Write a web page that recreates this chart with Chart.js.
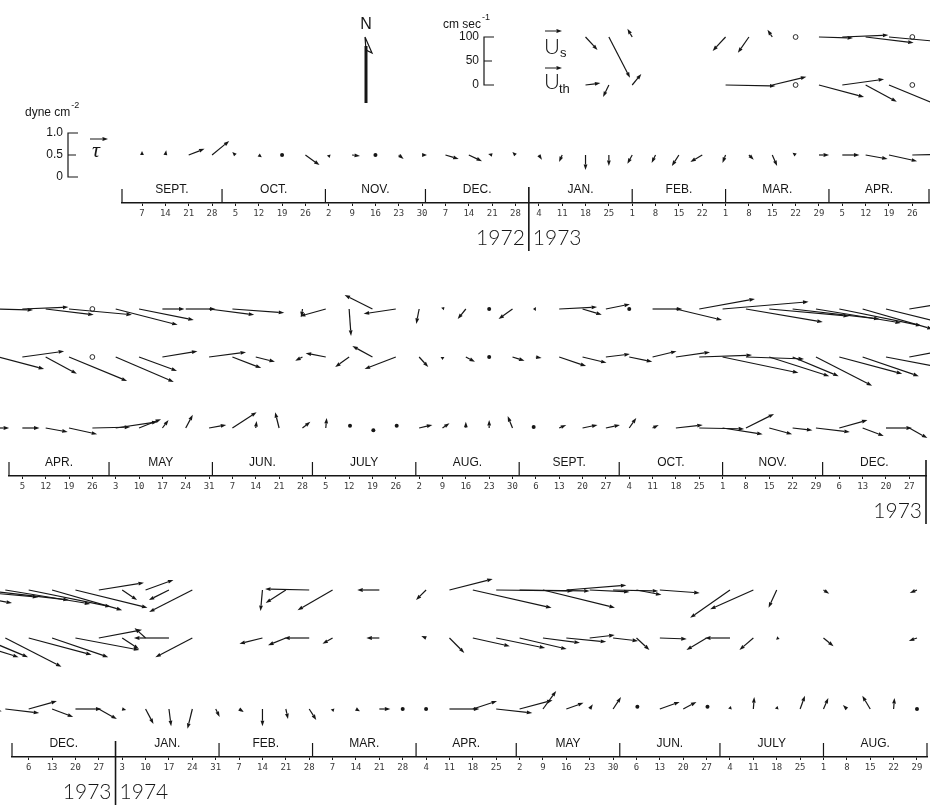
<!DOCTYPE html>
<html>
<head>
<meta charset="utf-8">
<script src="https://cdn.jsdelivr.net/npm/chart.js@4.4.0/dist/chart.umd.min.js"></script>
<style>
  html, body { margin: 0; padding: 0; background: #fff; }
  #page { position: relative; width: 930px; height: 807px; overflow: hidden; }
  canvas { position: absolute; left: 0; }
</style>
</head>
<body>
<div id="page">
  <canvas id="panel1" width="930" height="265" style="top:0"></canvas>
  <canvas id="panel2" width="930" height="280" style="top:265px"></canvas>
  <canvas id="panel3" width="930" height="262" style="top:545px"></canvas>
</div>
<script>
// -------------------------------
// weekly records, first one on 7 Sept 1972
// day numbers count from 1 Sept 1972
// -------------------------------
const DAY0 = Date.UTC(1972, 8, 1);
const dayOf = (y, m, d) => (Date.UTC(y, m, d) - DAY0) / 86400000;
const firstWeek = dayOf(1972, 8, 7);
const weekDay = k => firstWeek + 7 * k;

const monthNames = ["JAN.", "FEB.", "MAR.", "APR.", "MAY", "JUN.", "JULY", "AUG.", "SEPT.", "OCT.", "NOV.", "DEC."];

// surface current [east, north], cm/s (null = no record)
const surfaceCurrent = [
  null, null, null, null,                                   // Sep 72
  null, null, null, null,                                   // Oct
  null, null, null, null, null,                             // Nov
  null, null, null, null,                                   // Dec
  null, null, [25, -27], [44, -85],                         // Jan 73
  [-10, 17], null, null, null,                              // Feb
  [-27, -29], [-23, -33], [-10, 15], null, [71, -2],        // Mar
  [96, 4], [100, -12], [131, -12], null,                    // Apr
  [129, -33], [114, -23], [46, 0], [62, 0], [94, -12],      // May
  [108, -8], null, null, [-2, -17],                         // Jun
  [-54, -15], [4, -56], [-58, 29], [-67, -10],              // Jul
  [-6, -31], [4, 4], [-17, -21], [0, 0], [-29, -21],        // Aug
  [-6, 0], [79, 4], [40, -12], [50, 10],                    // Sep
  [0, 0], [62, 0], [96, -23], [116, 21],                    // Oct
  [179, 15], [160, -27], [166, -15], [181, -21], [177, -29],// Nov
  [171, -35], [146, -42], [150, -37], [94, 15],             // Dec
  [31, -21], [58, 21], [-42, -21], [-90, -46], null,        // Jan 74
  null, [-4, -44], [-42, -27], [-92, 2],                    // Feb
  [-73, -42], null, [-46, 0], null,                         // Mar
  [-21, -21], [90, 23], [164, -37], [160, -2],              // Apr
  [146, -2], [150, -37], [125, 10], [83, -4], [94, -2],     // May
  [52, -10], [83, -6], null, null,                          // Jun
  [-83, -58], [-90, -40], [-17, -37], null,                 // Jul
  [12, -8], null, null, null, [-15, -6]                     // Aug
];

// current at the thermocline [east, north], cm/s
const thermoclineCurrent = [
  null, null, null, null,
  null, null, null, null,
  null, null, null, null, null,
  null, null, null, null,
  null, null, [31, 4], [-12, -25],                          // Jan 73
  [19, 23], null, null, null,                               // Feb
  [104, -2], null, [71, 17], null, [94, -25],               // Mar
  [87, 12], [65, -35], [121, -50], null,                    // Apr
  [121, -52], [79, -29], [73, 12], null, [77, 10],          // May
  [60, -23], [40, -10], null, [-15, -8],                    // Jun
  [-42, 8], [-29, -21], [-42, 23], [-65, -25],              // Jul
  [19, -21], [0, -6], [19, -10], [0, 0], [25, -8],          // Aug
  [12, -2], [56, -19], [50, -12], [50, 6],                  // Sep
  [48, -10], [50, 12], [71, 10], [110, 4],                  // Oct
  [158, -33], [121, -4], [125, -40], [96, -40], [117, -60], // Nov
  [131, -35], [117, -40], [133, -25], [90, 17],             // Dec
  [35, -23], [-23, 21], [-73, 0], [-77, -40], null,         // Jan 74
  null, [-48, -12], [-37, -15], [-52, 0],                   // Feb
  [-21, -12], null, [-27, 0], null,                         // Mar
  [-10, 4], [31, -31], [77, -17], [102, -21],               // Apr
  [98, -23], [77, -10], [83, -8], [52, 6], [52, -6],        // May
  [27, -25], [56, -2], null, [-42, -25],                    // Jun
  [-52, 0], [-29, -25], [6, -2], null,                      // Jul
  [21, -17], null, null, null, [-17, -6]                    // Aug
];

// wind stress [east, north], dyne cm-2
const windStress = [
  [0, 0.09], [0.02, 0.11], [0.36, 0.14], [0.39, 0.32],                      // Sep 72
  [-0.07, 0.07], [0.07, -0.05], [0, 0], [0.32, -0.23],                      // Oct
  [0.02, -0.07], [0.18, -0.02], [0, 0], [0.11, -0.09], [0.11, 0],           // Nov
  [0.30, -0.09], [0.30, -0.14], [-0.09, 0.02], [-0.07, 0.07],               // Dec
  [0.07, -0.11], [-0.07, -0.16], [0, -0.34], [0, -0.25],                    // Jan 73
  [-0.11, -0.20], [-0.09, -0.18], [-0.16, -0.25], [-0.27, -0.16],           // Feb
  [-0.07, -0.18], [0.11, -0.11], [0.11, -0.25], [-0.07, 0.05], [0.23, 0],   // Mar
  [0.39, 0], [0.50, -0.09], [0.64, -0.14], [0.86, 0.02],                    // Apr
  [0.95, 0.14], [0.50, 0.20], [0.14, 0.18], [0.16, 0.30], [0.39, 0.07],     // May
  [0.55, 0.36], [0.02, 0.16], [-0.09, 0.36], [0.18, 0.14],                  // Jun
  [0.02, 0.23], [0.02, 0.05], [0.02, -0.05], [0.02, 0.05],                  // Jul
  [0.30, 0.07], [0.16, 0.11], [0, 0.14], [0, 0.18], [-0.11, 0.27],          // Aug
  [-0.05, 0.02], [0.16, 0.07], [0.34, 0.07], [0.32, 0.07],                  // Sep
  [0.16, 0.23], [0.14, 0.07], [0.61, 0.07], [1.02, -0.02],                  // Oct
  [0.91, -0.14], [0.64, 0.32], [0.52, -0.14], [0.45, -0.05], [0.77, -0.09], // Nov
  [0.64, 0.18], [0.48, -0.18], [0.59, 0], [0.41, -0.23],                    // Dec
  [0.09, -0.02], [0.18, -0.34], [0.05, -0.39], [-0.11, -0.45], [0.09, -0.18], // Jan 74
  [0.11, -0.07], [0, -0.39], [0.05, -0.23], [0.16, -0.25],                  // Feb
  [0.02, -0.07], [0.09, -0.05], [0.25, 0], [0, 0],                          // Mar
  [0, 0], [0.68, 0], [0.55, 0.18], [0.82, -0.09],                           // Apr
  [0.75, 0.20], [0.30, 0.41], [0.39, 0.14], [0.07, 0.11], [0.18, 0.27],     // May
  [0.02, 0.05], [0.45, 0.16], [0.30, 0.16], [0.02, 0.05],                   // Jun
  [0.02, 0.07], [0.02, 0.27], [0.02, 0.07], [0.11, 0.30],                   // Jul
  [0.11, 0.25], [-0.09, 0.09], [-0.18, 0.30], [0.02, 0.25], [0, 0]          // Aug
];

// weeks where the current meter gave no usable record (open circles)
const noRecordWeeks = [dayOf(1973, 2, 22), dayOf(1973, 3, 26)];

// ===============================
// PANEL LAYOUT (pixels inside each canvas)
// ===============================
const SPEED_PX = 0.48;   // px per cm/s
const STRESS_PX = 44;    // px per dyne cm-2
const ink = "#161616";

const panels = [
  { id: "panel1", from: dayOf(1972, 8, 1), to: dayOf(1973, 4, 1) + 0.3, left: 122, right: 0,
    firstMonth: [1972, 8], months: 8, th: 85, tau: 155, axis: 203, years: ["1972", "1973"], key: true },
  { id: "panel2", from: dayOf(1973, 3, 1), to: dayOf(1974, 0, 1), left: 9, right: 4,
    firstMonth: [1973, 3], months: 9, th: 92, tau: 163, axis: 211, years: ["1973", null] },
  { id: "panel3", from: dayOf(1973, 11, 1), to: dayOf(1974, 8, 1), left: 12, right: 3,
    firstMonth: [1973, 11], months: 9, th: 93, tau: 164, axis: 212, years: ["1973", "1974"] }
];

function drawStick(ctx, x0, y0, dx, dy) {
  const len = Math.hypot(dx, dy);
  const x1 = x0 + dx, y1 = y0 + dy;
  if (len < 2.5) {
    ctx.beginPath();
    ctx.arc(x1, y1, 2, 0, Math.PI * 2);
    ctx.fill();
    return;
  }
  const ux = dx / len, uy = dy / len;
  const h = Math.min(5.5, len), w = 1.9;
  const bx = x1 - ux * h, by = y1 - uy * h;
  ctx.beginPath();
  ctx.moveTo(x0, y0);
  ctx.lineTo(bx, by);
  ctx.stroke();
  ctx.beginPath();
  ctx.moveTo(x1, y1);
  ctx.lineTo(bx - uy * w, by + ux * w);
  ctx.lineTo(bx + uy * w, by - ux * w);
  ctx.closePath();
  ctx.fill();
}

// sticks: base point from the scales, length from the y scale so both axes share one unit
const stickPlugin = {
  id: "sticks",
  afterDatasetsDraw(chart) {
    const ctx = chart.ctx, xs = chart.scales.x;
    ctx.save();
    ctx.strokeStyle = ink;
    ctx.fillStyle = ink;
    ctx.lineWidth = 1.2;
    chart.data.datasets.forEach(ds => {
      const ys = chart.scales[ds.yAxisID];
      const k = Math.abs(ys.getPixelForValue(1) - ys.getPixelForValue(0));
      ds.data.forEach(pt => {
        drawStick(ctx, xs.getPixelForValue(pt.x), ys.getPixelForValue(pt.y), pt.e * k, -pt.n * k);
      });
      (ds.noRecord || []).forEach(d => {
        ctx.beginPath();
        ctx.arc(xs.getPixelForValue(d), ys.getPixelForValue(ds.base), 2.4, 0, Math.PI * 2);
        ctx.lineWidth = 0.9;
        ctx.stroke();
        ctx.lineWidth = 1.2;
      });
    });
    ctx.restore();
  }
};

function drawFrame(chart, p) {
  const ctx = chart.ctx, xs = chart.scales.x;
  const axisY = chart.chartArea.bottom;
  ctx.save();
  ctx.strokeStyle = ink;
  ctx.fillStyle = ink;
  ctx.textAlign = "center";
  ctx.textBaseline = "middle";

  const divider = (x, labels) => {
    ctx.lineWidth = 1.6;
    ctx.beginPath();
    ctx.moveTo(x, axisY - 16);
    ctx.lineTo(x, axisY + 48);
    ctx.stroke();
    ctx.font = '300 21px Lato, "DejaVu Sans", sans-serif';
    if (labels[0]) { ctx.textAlign = "right"; ctx.fillText(labels[0], x - 4, axisY + 35); }
    if (labels[1]) { ctx.textAlign = "left"; ctx.fillText(labels[1], x + 4, axisY + 35); }
    ctx.textAlign = "center";
  };
  const separator = x => {
    ctx.lineWidth = 1.2;
    ctx.beginPath();
    ctx.moveTo(x, axisY - 14);
    ctx.lineTo(x, axisY);
    ctx.stroke();
  };

  const [y0, m0] = p.firstMonth;
  for (let i = 0; i <= p.months; i++) {
    const start = dayOf(y0, m0 + i, 1);
    const month = new Date(DAY0 + start * 864e5).getUTCMonth();
    const x = xs.getPixelForValue(start);
    if (month === 0) divider(x, p.years);
    else separator(x);
    if (i < p.months) {
      const end = dayOf(y0, m0 + i + 1, 1);
      ctx.font = '12px "Liberation Sans", Arial, sans-serif';
      ctx.fillText(monthNames[month], xs.getPixelForValue((start + Math.min(end, p.to)) / 2), axisY - 13);
    }
  }
  ctx.restore();
}

function drawKey(chart) {
  const ctx = chart.ctx;
  const yv = chart.scales.y, yt = chart.scales.yTau;
  ctx.save();
  ctx.strokeStyle = ink;
  ctx.fillStyle = ink;

  // north arrow
  ctx.font = '16px "Liberation Sans", Arial, sans-serif';
  ctx.textAlign = "center";
  ctx.textBaseline = "middle";
  ctx.fillText("N", 366, 25);
  ctx.lineWidth = 3;
  ctx.beginPath();
  ctx.moveTo(366, 103);
  ctx.lineTo(366, 46);
  ctx.stroke();
  ctx.lineWidth = 1.2;
  ctx.beginPath();
  ctx.moveTo(365, 37);
  ctx.lineTo(372, 53);
  ctx.lineTo(366, 50);
  ctx.lineTo(365, 37);
  ctx.stroke();

  // current scale bar
  const bx = 484;
  const v0 = yv.getPixelForValue(0), v50 = yv.getPixelForValue(50), v100 = yv.getPixelForValue(100);
  ctx.lineWidth = 1.2;
  ctx.beginPath();
  ctx.moveTo(bx + 10, v100); ctx.lineTo(bx, v100); ctx.lineTo(bx, v0); ctx.lineTo(bx + 10, v0);
  ctx.moveTo(bx, v50); ctx.lineTo(bx + 8, v50);
  ctx.stroke();
  ctx.font = '12px "Liberation Sans", Arial, sans-serif';
  ctx.textAlign = "right";
  ctx.fillText("100", bx - 5, v100);
  ctx.fillText("50", bx - 5, v50);
  ctx.fillText("0", bx - 5, v0);
  ctx.textAlign = "left";
  ctx.textBaseline = "alphabetic";
  ctx.fillText("cm sec", 443, 28);
  const w1 = ctx.measureText("cm sec").width;
  ctx.font = '9px "Liberation Sans", Arial, sans-serif';
  ctx.fillText("-1", 443 + w1 + 1, 20);

  // stress scale bar
  const tx = 68;
  const t0 = yt.getPixelForValue(0), t5 = yt.getPixelForValue(0.5), t10 = yt.getPixelForValue(1.0);
  ctx.beginPath();
  ctx.moveTo(tx + 10, t10); ctx.lineTo(tx, t10); ctx.lineTo(tx, t0); ctx.lineTo(tx + 10, t0);
  ctx.moveTo(tx, t5); ctx.lineTo(tx + 8, t5);
  ctx.stroke();
  ctx.font = '12px "Liberation Sans", Arial, sans-serif';
  ctx.textAlign = "right";
  ctx.textBaseline = "middle";
  ctx.fillText("1.0", tx - 5, t10);
  ctx.fillText("0.5", tx - 5, t5);
  ctx.fillText("0", tx - 5, t0);
  ctx.textAlign = "left";
  ctx.textBaseline = "alphabetic";
  ctx.fillText("dyne cm", 25, 116);
  const w2 = ctx.measureText("dyne cm").width;
  ctx.font = '9px "Liberation Sans", Arial, sans-serif';
  ctx.fillText("-2", 25 + w2 + 1, 108);

  // series labels
  ctx.lineWidth = 1;
  ctx.font = '300 22px Lato, "Liberation Sans", sans-serif';
  ctx.fillText("U", 544, 54);
  ctx.fillText("U", 544, 89);
  ctx.font = 'italic 22px "Liberation Serif", serif';
  ctx.fillText("\u03C4", 92, 157);
  drawStick(ctx, 545, 31, 17, 0);
  drawStick(ctx, 545, 68, 17, 0);
  drawStick(ctx, 90, 139, 18, 0);
  ctx.font = '13px "Liberation Sans", Arial, sans-serif';
  ctx.fillText("s", 560, 57);
  ctx.fillText("th", 559, 93);
  ctx.restore();
}

function buildPanel(p) {
  const canvas = document.getElementById(p.id);
  const H = canvas.height;
  const pick = (series, base) => series
    .map((v, k) => v && { x: weekDay(k), y: base, e: v[0], n: v[1] })
    .filter(pt => pt && pt.x >= p.from - 40 && pt.x <= p.to + 2);
  const gaps = noRecordWeeks.filter(d => d >= p.from - 3 && d <= p.to + 3);
  const weekTicks = [];
  for (let k = 0; weekDay(k) <= p.to; k++) {
    if (weekDay(k) >= p.from) weekTicks.push(weekDay(k));
  }

  new Chart(canvas, {
    type: "scatter",
    data: {
      datasets: [
        { label: "U s", data: pick(surfaceCurrent, 100), yAxisID: "y", base: 100, noRecord: gaps },
        { label: "U th", data: pick(thermoclineCurrent, 0), yAxisID: "y", base: 0, noRecord: gaps },
        { label: "tau", data: pick(windStress, 0.5), yAxisID: "yTau", base: 0.5 }
      ]
    },
    options: {
      responsive: false,
      animation: false,
      events: [],
      layout: { autoPadding: false, padding: { left: p.left, right: p.right, top: 0, bottom: H - p.axis - 20 } },
      elements: { point: { radius: 0, hoverRadius: 0 } },
      plugins: { legend: { display: false }, tooltip: { enabled: false } },
      scales: {
        x: {
          type: "linear",
          min: p.from,
          max: p.to,
          afterFit: s => { s.height = 20; },
          afterBuildTicks: s => { s.ticks = weekTicks.map(value => ({ value })); },
          ticks: {
            autoSkip: false,
            maxRotation: 0,
            padding: 2,
            color: "#3a3a3a",
            font: { family: '"DejaVu Sans Mono", monospace', size: 9 },
            callback: v => new Date(DAY0 + v * 864e5).getUTCDate()
          },
          grid: { drawOnChartArea: false, tickLength: 3, color: ink, lineWidth: 1 },
          border: { display: true, color: ink, width: 1.6 }
        },
        y: { display: false, min: -(p.axis - p.th) / SPEED_PX, max: p.th / SPEED_PX },
        yTau: { display: false, min: 0.5 - (p.axis - p.tau) / STRESS_PX, max: 0.5 + p.tau / STRESS_PX }
      }
    },
    plugins: [stickPlugin, {
      id: "frame",
      afterDraw(chart) {
        drawFrame(chart, p);
        if (p.key) drawKey(chart);
      }
    }]
  });
}

panels.forEach(buildPanel);
</script>
</body>
</html>
